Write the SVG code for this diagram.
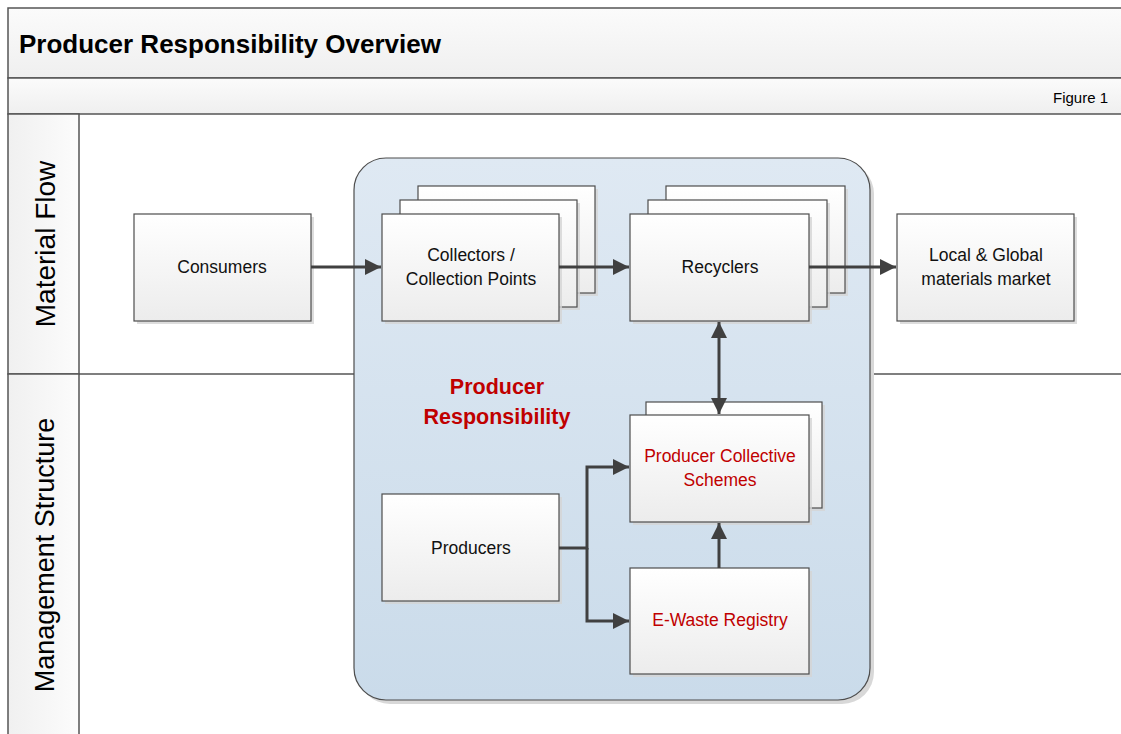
<svg xmlns="http://www.w3.org/2000/svg" width="1121" height="734" viewBox="0 0 1121 734">
<defs>
<linearGradient id="gBox" x1="0" y1="0" x2="0" y2="1"><stop offset="0" stop-color="#ffffff"/><stop offset="1" stop-color="#ececec"/></linearGradient>
<linearGradient id="gHead" x1="0" y1="0" x2="0" y2="1"><stop offset="0" stop-color="#fbfbfb"/><stop offset="1" stop-color="#efefef"/></linearGradient>
<linearGradient id="gLane" x1="0" y1="0" x2="1" y2="0"><stop offset="0" stop-color="#f0f0f0"/><stop offset="1" stop-color="#fcfcfc"/></linearGradient>
<linearGradient id="gCont" x1="0" y1="0" x2="0" y2="1"><stop offset="0" stop-color="#dfe9f3"/><stop offset="1" stop-color="#cadbea"/></linearGradient>
<marker id="ah" viewBox="0 0 10 10" refX="10" refY="5" markerWidth="16" markerHeight="16" markerUnits="userSpaceOnUse" orient="auto-start-reverse"><path d="M0,0 L10,5 L0,10 z" fill="#404040"/></marker>
</defs>
<style>
.box{fill:url(#gBox);stroke:#4d4d4d;stroke-width:1.2}
.sh{fill:#d4d4d4;opacity:0.8}
.t{font-family:"Liberation Sans",Arial,sans-serif;font-size:17.5px;fill:#111;text-anchor:middle}
.red{fill:#c00000}
.con{fill:none;stroke:#404040;stroke-width:3}
.frame{stroke:#555;stroke-width:1.5;fill:none}
</style>
<rect width="1121" height="734" fill="#ffffff"/>
<g id="frame">
<rect x="8" y="8" width="1120" height="70" fill="url(#gHead)" stroke="#555" stroke-width="1.5"/>
<rect x="8" y="78" width="1120" height="36" fill="url(#gHead)" stroke="#555" stroke-width="1.5"/>
<rect x="8" y="114" width="71" height="260" fill="url(#gLane)" stroke="#555" stroke-width="1.5"/>
<rect x="8" y="374" width="71" height="370" fill="url(#gLane)" stroke="#555" stroke-width="1.5"/>
<line x1="79" y1="374" x2="1121" y2="374" class="frame"/>
<text x="19" y="53" style="font-family:'Liberation Sans',Arial,sans-serif;font-size:26px;font-weight:bold;fill:#000">Producer Responsibility Overview</text>
<text x="1108" y="103" style="font-family:'Liberation Sans',Arial,sans-serif;font-size:15px;fill:#000;text-anchor:end">Figure 1</text>
<text transform="translate(55,244) rotate(-90)" style="font-family:'Liberation Sans',Arial,sans-serif;font-size:28px;fill:#000;text-anchor:middle">Material Flow</text>
<text transform="translate(54,555) rotate(-90)" style="font-family:'Liberation Sans',Arial,sans-serif;font-size:27px;fill:#000;text-anchor:middle">Management Structure</text>
</g>
<g id="container">
<rect x="358" y="162" width="516" height="542" rx="32" fill="#d8d8d8"/>
<rect x="354" y="158" width="516" height="542" rx="32" fill="url(#gCont)" stroke="#4d4d4d" stroke-width="1.2"/>
<text x="497" y="394" class="t red" style="font-size:21.5px;font-weight:bold">Producer</text>
<text x="497" y="424" class="t red" style="font-size:21.5px;font-weight:bold">Responsibility</text>
</g>
<g id="consumers">
<rect x="137" y="217" width="177" height="107" class="sh"/>
<rect x="134" y="214" width="177" height="107" class="box"/>
<text x="222" y="273" class="t">Consumers</text>
</g>
<g id="collectors">
<rect x="421" y="189" width="177" height="107" class="sh"/>
<rect x="418" y="186" width="177" height="107" class="box"/>
<rect x="403" y="203" width="177" height="107" class="sh"/>
<rect x="400" y="200" width="177" height="107" class="box"/>
<rect x="385" y="217" width="177" height="107" class="sh"/>
<rect x="382" y="214" width="177" height="107" class="box"/>
<text x="471" y="261" class="t">Collectors /</text>
<text x="471" y="285" class="t">Collection Points</text>
</g>
<g id="recyclers">
<rect x="669" y="189" width="179" height="107" class="sh"/>
<rect x="666" y="186" width="179" height="107" class="box"/>
<rect x="651" y="203" width="179" height="107" class="sh"/>
<rect x="648" y="200" width="179" height="107" class="box"/>
<rect x="633" y="217" width="179" height="107" class="sh"/>
<rect x="630" y="214" width="179" height="107" class="box"/>
<text x="720" y="273" class="t">Recyclers</text>
</g>
<g id="market">
<rect x="900" y="217" width="177" height="107" class="sh"/>
<rect x="897" y="214" width="177" height="107" class="box"/>
<text x="986" y="261" class="t">Local &amp; Global</text>
<text x="986" y="285" class="t">materials market</text>
</g>
<g id="pcs">
<rect x="649" y="405" width="176" height="106" class="sh"/>
<rect x="646" y="402" width="176" height="106" class="box"/>
<rect x="633" y="418" width="179" height="107" class="sh"/>
<rect x="630" y="415" width="179" height="107" class="box"/>
<text x="720" y="462" class="t red">Producer Collective</text>
<text x="720" y="486" class="t red">Schemes</text>
</g>
<g id="producers">
<rect x="385" y="497" width="177" height="107" class="sh"/>
<rect x="382" y="494" width="177" height="107" class="box"/>
<text x="471" y="554" class="t">Producers</text>
</g>
<g id="registry">
<rect x="633" y="571" width="179" height="106" class="sh"/>
<rect x="630" y="568" width="179" height="106" class="box"/>
<text x="720" y="626" class="t red">E-Waste Registry</text>
</g>
<g id="connectors">
<line x1="311" y1="267" x2="381" y2="267" class="con" marker-end="url(#ah)"/>
<line x1="559" y1="267" x2="629" y2="267" class="con" marker-end="url(#ah)"/>
<line x1="809" y1="267" x2="896" y2="267" class="con" marker-end="url(#ah)"/>
<line x1="719" y1="322" x2="719" y2="414" class="con" marker-start="url(#ah)" marker-end="url(#ah)"/>
<line x1="719" y1="568" x2="719" y2="523" class="con" marker-end="url(#ah)"/>
<polyline points="559,548 587,548 587,467 629,467" class="con" marker-end="url(#ah)"/>
<polyline points="587,548 587,621 629,621" class="con" marker-end="url(#ah)"/>
</g>
</svg>
